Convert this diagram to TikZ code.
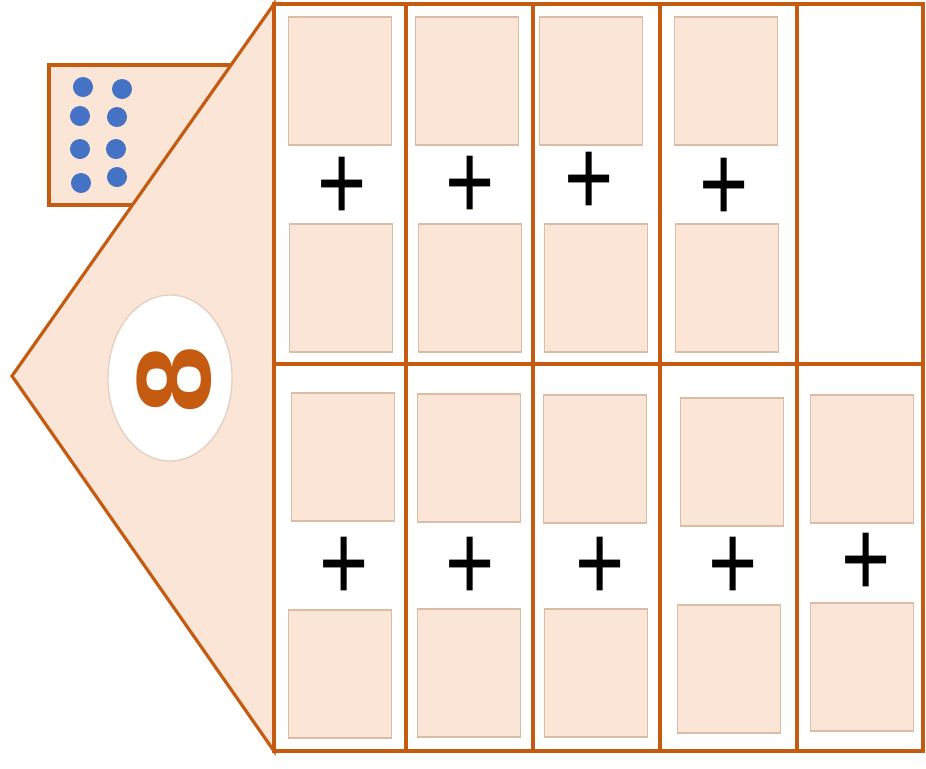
\documentclass[tikz,border=0pt]{standalone}
\usepackage{fontspec}
\setmainfont{Liberation Sans}
\usetikzlibrary{shapes.geometric,positioning}

\definecolor{houseorange}{HTML}{C55A11}
\definecolor{housepeach}{HTML}{FBE5D6}
\definecolor{slottan}{HTML}{D9BDA6}
\definecolor{dotblue}{HTML}{4472C4}

\tikzset{
    cellbox/.style={draw=houseorange, line width=1.1pt, fill=white, inner sep=0pt},
    slotbox/.style={draw=slottan, line width=0.5pt, fill=housepeach, inner sep=0pt,
        minimum width=1.03cm, minimum height=1.28cm},
    plussign/.style={inner sep=0pt, yshift=-1.6pt, font=\fontsize{24}{24}\selectfont},
    dotmark/.style={circle, fill=dotblue, inner sep=0pt, minimum size=0.2cm}
}

\begin{document}
\begin{tikzpicture}[x=0.01cm, y=-0.01cm]
    \useasboundingbox (0,0) rectangle (926,769);

    % Dot card
    \node[draw=houseorange, line width=0.9pt, fill=housepeach, inner sep=0pt,
        minimum width=1.9cm, minimum height=1.4cm] (card) at (144,135) {};
    \foreach \i/\x/\y in {1/83/87, 2/122/89, 3/80/116, 4/117/117,
            5/80/149, 6/116/149, 7/81/183, 8/117/177} {
        \node[dotmark] (dot\i) at (\x,\y) {};
    }

    % House roof
    \draw[draw=houseorange, line width=0.9pt, fill=housepeach]
        (274,4) -- (12,376) -- (274,751) -- cycle;

    % Number badge
    \node[ellipse, draw=slottan!70, line width=0.4pt, fill=white,
        minimum width=1.24cm, minimum height=1.66cm] (badge) at (170,378) {};
    \node[rotate=90, text=houseorange, inner sep=0pt,
        font=\fontsize{30}{30}\selectfont\bfseries] (eight) at (174,380) {\scalebox{1.15}[1]{8}};

    % Cells
    \foreach \i/\l/\r in {1/274/406, 2/406/533, 3/533/660, 4/660/797, 5/797/923} {
        \node[cellbox, minimum width={(\r-\l)*0.01cm}, minimum height=3.6cm]
            (upper\i) at ({(\l+\r)/2},184) {};
        \node[cellbox, minimum width={(\r-\l)*0.01cm}, minimum height=3.87cm]
            (lower\i) at ({(\l+\r)/2},557.5) {};
    }

    % Upper row: slots and plus signs
    \foreach \i/\xa/\xb/\xp/\yp in {1/340/341/342/183, 2/467/470/470/182,
            3/591/596/589/178, 4/726/727/724/184} {
        \node[slotbox] (ua\i) at (\xa,81) {};
        \node[slotbox] (ub\i) at (\xb,288) {};
        \node[plussign] (up\i) at (\xp,\yp) {\scalebox{1}[1.3]{+}};
    }

    % Lower row: slots and plus signs
    \foreach \i/\xa/\ya/\xb/\yb/\xp/\yp in {1/343/457/340/674/344/563,
            2/469/458/469/673/470/563, 3/595/459/596/673/600/563,
            4/732/462/729/669/733/563, 5/862/459/862/667/866/559} {
        \node[slotbox] (la\i) at (\xa,\ya) {};
        \node[slotbox] (lb\i) at (\xb,\yb) {};
        \node[plussign] (lp\i) at (\xp,\yp) {\scalebox{1}[1.3]{+}};
    }
\end{tikzpicture}
\end{document}
